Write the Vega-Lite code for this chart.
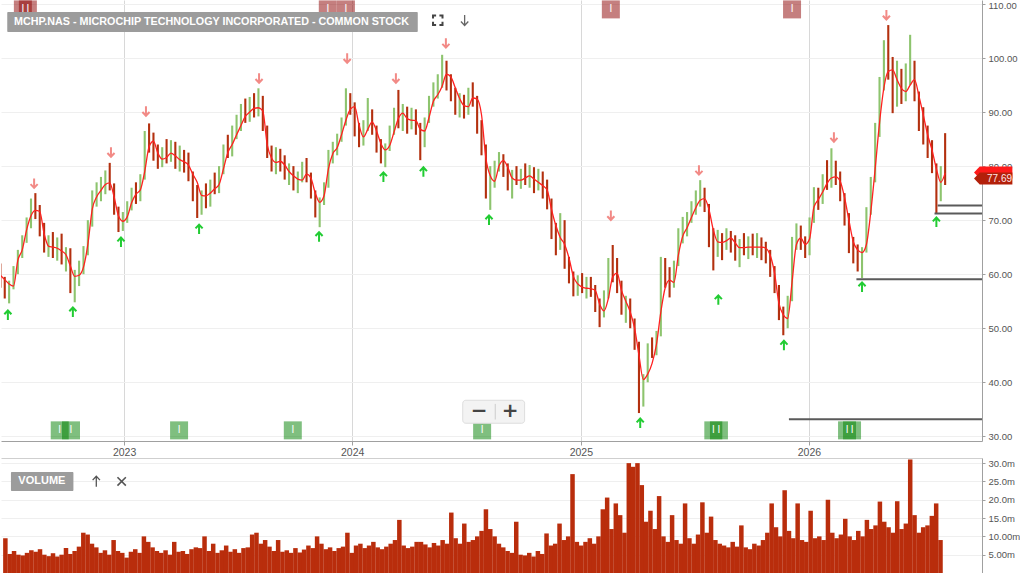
{
  "$schema": "https://vega.github.io/schema/vega-lite/v6.json",
  "padding": 0,
  "background": "white",
  "spacing": 17,
  "bounds": "flush",
  "config": {"view": {"stroke": null}, "font": "Liberation Sans", "axis": {"labelOverlap": false}},
  "datasets": {
    "px": [
      {"d":"2022-06-17","o":60.5,"h":62.0,"l":57.5,"c":58.2,"m":59.8,"v":9.5},
      {"d":"2022-06-24","o":58.2,"h":59.5,"l":55.5,"c":56.3,"m":59.0,"v":5.2},
      {"d":"2022-07-01","o":56.3,"h":58.8,"l":54.6,"c":58.0,"m":58.2,"v":6.0},
      {"d":"2022-07-08","o":58.0,"h":61.5,"l":57.2,"c":60.8,"m":57.8,"v":5.0},
      {"d":"2022-07-15","o":60.8,"h":64.5,"l":60.0,"c":63.9,"m":62.6,"v":4.8},
      {"d":"2022-07-22","o":63.9,"h":67.2,"l":63.0,"c":66.5,"m":64.5,"v":5.5},
      {"d":"2022-07-29","o":66.5,"h":70.5,"l":65.8,"c":69.8,"m":68.2,"v":6.2},
      {"d":"2022-08-05","o":69.8,"h":74.0,"l":68.5,"c":72.6,"m":70.8,"v":5.8},
      {"d":"2022-08-12","o":72.6,"h":75.0,"l":70.2,"c":71.0,"m":71.8,"v":6.5},
      {"d":"2022-08-19","o":71.0,"h":72.8,"l":67.0,"c":68.2,"m":71.6,"v":5.0},
      {"d":"2022-08-26","o":68.2,"h":69.5,"l":64.0,"c":65.0,"m":67.5,"v":4.6},
      {"d":"2022-09-02","o":65.0,"h":67.2,"l":63.2,"c":66.3,"m":65.2,"v":5.4},
      {"d":"2022-09-09","o":66.3,"h":67.8,"l":63.0,"c":64.0,"m":65.0,"v":4.5},
      {"d":"2022-09-16","o":64.0,"h":66.8,"l":62.5,"c":65.9,"m":64.8,"v":5.0},
      {"d":"2022-09-23","o":65.9,"h":67.5,"l":61.8,"c":62.5,"m":64.3,"v":6.8},
      {"d":"2022-09-30","o":62.5,"h":65.0,"l":60.5,"c":64.0,"m":63.6,"v":5.2},
      {"d":"2022-10-07","o":64.0,"h":64.8,"l":56.5,"c":58.0,"m":61.5,"v":6.0},
      {"d":"2022-10-14","o":58.0,"h":60.8,"l":54.8,"c":59.9,"m":59.6,"v":7.2},
      {"d":"2022-10-21","o":59.9,"h":62.5,"l":57.8,"c":61.5,"m":59.8,"v":11.0},
      {"d":"2022-10-28","o":61.5,"h":65.2,"l":60.0,"c":64.0,"m":61.3,"v":10.5},
      {"d":"2022-11-04","o":64.0,"h":70.0,"l":63.5,"c":69.2,"m":65.5,"v":8.0},
      {"d":"2022-11-11","o":69.2,"h":75.5,"l":68.8,"c":74.6,"m":72.0,"v":7.0},
      {"d":"2022-11-18","o":74.6,"h":77.0,"l":72.5,"c":75.5,"m":74.3,"v":5.5},
      {"d":"2022-11-25","o":75.5,"h":78.0,"l":73.5,"c":76.8,"m":75.5,"v":6.2},
      {"d":"2022-12-02","o":76.8,"h":79.2,"l":74.8,"c":77.5,"m":76.6,"v":5.0},
      {"d":"2022-12-09","o":77.5,"h":80.6,"l":75.5,"c":76.0,"m":76.9,"v":9.0},
      {"d":"2022-12-16","o":76.0,"h":76.8,"l":71.0,"c":72.0,"m":74.3,"v":6.0},
      {"d":"2022-12-23","o":72.0,"h":72.5,"l":67.8,"c":69.0,"m":70.8,"v":5.5},
      {"d":"2022-12-30","o":69.0,"h":71.5,"l":68.0,"c":70.9,"m":69.8,"v":4.2},
      {"d":"2023-01-06","o":70.9,"h":73.5,"l":69.5,"c":72.8,"m":70.6,"v":5.8},
      {"d":"2023-01-13","o":72.8,"h":76.0,"l":71.8,"c":75.2,"m":73.2,"v":6.5},
      {"d":"2023-01-20","o":75.2,"h":77.0,"l":73.0,"c":74.0,"m":74.8,"v":5.5},
      {"d":"2023-01-27","o":74.0,"h":78.5,"l":73.5,"c":78.0,"m":75.6,"v":10.0},
      {"d":"2023-02-03","o":78.0,"h":86.5,"l":77.5,"c":85.8,"m":79.0,"v":8.5},
      {"d":"2023-02-10","o":85.8,"h":87.9,"l":82.5,"c":84.0,"m":83.6,"v":7.0},
      {"d":"2023-02-17","o":84.0,"h":86.2,"l":81.0,"c":82.0,"m":84.6,"v":6.0},
      {"d":"2023-02-24","o":82.0,"h":84.0,"l":79.5,"c":80.5,"m":82.4,"v":5.5},
      {"d":"2023-03-03","o":80.5,"h":83.5,"l":79.8,"c":82.8,"m":81.3,"v":6.2},
      {"d":"2023-03-10","o":82.8,"h":85.0,"l":80.5,"c":81.5,"m":81.6,"v":5.0},
      {"d":"2023-03-17","o":81.5,"h":84.8,"l":80.8,"c":83.6,"m":82.4,"v":8.5},
      {"d":"2023-03-24","o":83.6,"h":84.5,"l":79.5,"c":80.2,"m":81.9,"v":5.8},
      {"d":"2023-03-31","o":80.2,"h":83.8,"l":79.0,"c":82.0,"m":81.2,"v":6.0},
      {"d":"2023-04-07","o":82.0,"h":83.0,"l":78.8,"c":79.5,"m":80.8,"v":5.2},
      {"d":"2023-04-14","o":79.5,"h":82.5,"l":77.2,"c":78.0,"m":80.2,"v":6.5},
      {"d":"2023-04-21","o":78.0,"h":79.0,"l":73.5,"c":74.5,"m":78.5,"v":7.0},
      {"d":"2023-04-28","o":74.5,"h":76.5,"l":70.4,"c":72.0,"m":77.0,"v":6.8},
      {"d":"2023-05-05","o":72.0,"h":75.5,"l":71.0,"c":74.8,"m":74.6,"v":10.0},
      {"d":"2023-05-12","o":74.8,"h":76.8,"l":72.2,"c":73.2,"m":74.5,"v":6.0},
      {"d":"2023-05-19","o":73.2,"h":77.5,"l":72.5,"c":76.8,"m":75.0,"v":8.0},
      {"d":"2023-05-26","o":76.8,"h":78.8,"l":74.8,"c":75.5,"m":75.8,"v":5.5},
      {"d":"2023-06-02","o":75.5,"h":80.0,"l":75.0,"c":79.4,"m":76.6,"v":6.2},
      {"d":"2023-06-09","o":79.4,"h":84.0,"l":78.5,"c":83.2,"m":79.5,"v":7.5},
      {"d":"2023-06-16","o":83.2,"h":85.8,"l":81.5,"c":82.5,"m":82.5,"v":5.8},
      {"d":"2023-06-23","o":82.5,"h":87.5,"l":81.8,"c":86.8,"m":84.0,"v":6.5},
      {"d":"2023-06-30","o":86.8,"h":89.5,"l":85.0,"c":88.2,"m":85.8,"v":5.5},
      {"d":"2023-07-07","o":88.2,"h":91.5,"l":86.5,"c":90.6,"m":87.5,"v":6.8},
      {"d":"2023-07-14","o":90.6,"h":92.5,"l":88.0,"c":89.5,"m":89.2,"v":7.0},
      {"d":"2023-07-21","o":89.5,"h":92.8,"l":88.2,"c":91.8,"m":90.0,"v":10.5},
      {"d":"2023-07-28","o":91.8,"h":93.5,"l":89.0,"c":90.0,"m":90.7,"v":11.0},
      {"d":"2023-08-04","o":90.0,"h":94.4,"l":89.2,"c":92.5,"m":90.8,"v":8.0},
      {"d":"2023-08-11","o":92.5,"h":93.0,"l":86.5,"c":87.0,"m":90.2,"v":9.0},
      {"d":"2023-08-18","o":87.0,"h":87.5,"l":81.5,"c":82.5,"m":84.0,"v":7.2},
      {"d":"2023-08-25","o":82.5,"h":83.8,"l":79.0,"c":80.0,"m":81.5,"v":6.0},
      {"d":"2023-09-01","o":80.0,"h":83.5,"l":78.5,"c":82.0,"m":80.7,"v":9.0},
      {"d":"2023-09-08","o":82.0,"h":83.2,"l":79.0,"c":80.5,"m":80.9,"v":5.8},
      {"d":"2023-09-15","o":80.5,"h":82.0,"l":77.5,"c":78.5,"m":80.2,"v":6.2},
      {"d":"2023-09-22","o":78.5,"h":80.5,"l":76.5,"c":79.2,"m":79.0,"v":5.5},
      {"d":"2023-09-29","o":79.2,"h":80.0,"l":75.5,"c":76.8,"m":78.2,"v":6.8},
      {"d":"2023-10-06","o":76.8,"h":79.0,"l":75.0,"c":78.2,"m":77.6,"v":5.6},
      {"d":"2023-10-13","o":78.2,"h":80.8,"l":77.0,"c":79.8,"m":77.4,"v":6.4},
      {"d":"2023-10-20","o":79.8,"h":81.5,"l":77.0,"c":78.0,"m":78.5,"v":7.5},
      {"d":"2023-10-27","o":78.0,"h":78.8,"l":74.0,"c":74.8,"m":77.8,"v":6.8},
      {"d":"2023-11-03","o":74.8,"h":75.5,"l":70.5,"c":71.5,"m":75.0,"v":10.0},
      {"d":"2023-11-10","o":71.5,"h":74.2,"l":68.7,"c":73.5,"m":73.3,"v":8.0},
      {"d":"2023-11-17","o":73.5,"h":77.0,"l":72.8,"c":76.5,"m":74.5,"v":6.5},
      {"d":"2023-11-24","o":76.5,"h":83.0,"l":76.0,"c":82.2,"m":79.5,"v":7.0},
      {"d":"2023-12-01","o":82.2,"h":84.5,"l":80.5,"c":83.8,"m":82.3,"v":6.0},
      {"d":"2023-12-08","o":83.8,"h":86.0,"l":82.0,"c":85.5,"m":83.4,"v":6.8},
      {"d":"2023-12-15","o":85.5,"h":89.0,"l":84.5,"c":88.2,"m":85.8,"v":7.2},
      {"d":"2023-12-22","o":88.2,"h":94.4,"l":87.5,"c":92.8,"m":88.5,"v":11.0},
      {"d":"2023-12-29","o":92.8,"h":93.5,"l":89.5,"c":91.0,"m":90.5,"v":5.5},
      {"d":"2024-01-05","o":91.0,"h":91.8,"l":85.5,"c":86.5,"m":91.0,"v":7.5},
      {"d":"2024-01-12","o":86.5,"h":88.0,"l":83.5,"c":84.8,"m":87.6,"v":8.0},
      {"d":"2024-01-19","o":84.8,"h":88.5,"l":83.8,"c":87.8,"m":85.4,"v":6.8},
      {"d":"2024-01-26","o":87.8,"h":92.6,"l":86.5,"c":89.0,"m":86.8,"v":7.5},
      {"d":"2024-02-02","o":89.0,"h":90.5,"l":85.8,"c":86.5,"m":88.2,"v":8.5},
      {"d":"2024-02-09","o":86.5,"h":87.5,"l":82.5,"c":83.2,"m":86.5,"v":7.0},
      {"d":"2024-02-16","o":83.2,"h":85.0,"l":80.5,"c":82.0,"m":84.2,"v":6.5},
      {"d":"2024-02-23","o":82.0,"h":84.2,"l":79.8,"c":83.5,"m":83.0,"v":7.2},
      {"d":"2024-03-01","o":83.5,"h":87.5,"l":82.8,"c":86.8,"m":83.8,"v":8.0},
      {"d":"2024-03-08","o":86.8,"h":90.8,"l":85.8,"c":90.0,"m":86.3,"v":9.0},
      {"d":"2024-03-15","o":90.0,"h":94.1,"l":87.0,"c":88.2,"m":88.8,"v":14.5},
      {"d":"2024-03-22","o":88.2,"h":91.5,"l":86.5,"c":90.2,"m":89.8,"v":7.5},
      {"d":"2024-03-29","o":90.2,"h":91.0,"l":86.0,"c":87.2,"m":88.8,"v":6.8},
      {"d":"2024-04-05","o":87.2,"h":90.8,"l":86.8,"c":89.5,"m":88.5,"v":7.2},
      {"d":"2024-04-12","o":89.5,"h":90.5,"l":85.8,"c":86.5,"m":88.4,"v":8.5},
      {"d":"2024-04-19","o":86.5,"h":88.0,"l":81.1,"c":84.0,"m":86.8,"v":8.5},
      {"d":"2024-04-26","o":84.0,"h":89.0,"l":83.5,"c":88.5,"m":86.5,"v":7.8},
      {"d":"2024-05-03","o":88.5,"h":93.0,"l":88.0,"c":92.2,"m":89.0,"v":7.0},
      {"d":"2024-05-10","o":92.2,"h":95.5,"l":91.0,"c":94.8,"m":92.0,"v":8.2},
      {"d":"2024-05-17","o":94.8,"h":97.0,"l":92.5,"c":95.5,"m":93.2,"v":7.5},
      {"d":"2024-05-24","o":95.5,"h":100.6,"l":94.5,"c":98.5,"m":94.8,"v":9.0},
      {"d":"2024-05-31","o":98.5,"h":99.5,"l":94.0,"c":95.0,"m":97.0,"v":8.0},
      {"d":"2024-06-07","o":95.0,"h":97.0,"l":92.0,"c":93.0,"m":96.5,"v":16.5},
      {"d":"2024-06-14","o":93.0,"h":94.5,"l":89.5,"c":90.5,"m":94.5,"v":9.5},
      {"d":"2024-06-21","o":90.5,"h":93.5,"l":89.0,"c":92.0,"m":92.5,"v":8.0},
      {"d":"2024-06-28","o":92.0,"h":93.2,"l":88.8,"c":90.2,"m":91.2,"v":13.5},
      {"d":"2024-07-05","o":90.2,"h":94.5,"l":89.5,"c":93.5,"m":91.0,"v":8.5},
      {"d":"2024-07-12","o":93.5,"h":95.5,"l":91.0,"c":92.0,"m":92.6,"v":9.0},
      {"d":"2024-07-19","o":92.0,"h":93.0,"l":86.0,"c":87.0,"m":92.4,"v":10.0},
      {"d":"2024-07-26","o":87.0,"h":88.5,"l":82.0,"c":83.0,"m":89.5,"v":11.5},
      {"d":"2024-08-02","o":83.0,"h":84.0,"l":74.0,"c":76.5,"m":81.5,"v":17.4},
      {"d":"2024-08-09","o":76.5,"h":80.0,"l":71.9,"c":78.8,"m":78.2,"v":12.0},
      {"d":"2024-08-16","o":78.8,"h":81.0,"l":76.0,"c":80.5,"m":77.2,"v":10.0},
      {"d":"2024-08-23","o":80.5,"h":82.6,"l":79.0,"c":81.5,"m":80.0,"v":8.0},
      {"d":"2024-08-30","o":81.5,"h":82.2,"l":78.0,"c":79.0,"m":81.0,"v":7.0},
      {"d":"2024-09-06","o":79.0,"h":80.5,"l":75.5,"c":76.5,"m":79.8,"v":6.0},
      {"d":"2024-09-13","o":76.5,"h":79.3,"l":74.0,"c":78.5,"m":77.8,"v":5.5},
      {"d":"2024-09-20","o":78.5,"h":80.0,"l":76.5,"c":77.0,"m":77.4,"v":14.0},
      {"d":"2024-09-27","o":77.0,"h":79.5,"l":75.8,"c":78.8,"m":77.4,"v":5.0},
      {"d":"2024-10-04","o":78.8,"h":80.5,"l":76.5,"c":77.5,"m":77.8,"v":4.8},
      {"d":"2024-10-11","o":77.5,"h":80.2,"l":76.0,"c":79.2,"m":78.2,"v":5.5},
      {"d":"2024-10-18","o":79.2,"h":79.8,"l":75.0,"c":76.0,"m":77.6,"v":4.5},
      {"d":"2024-10-25","o":76.0,"h":79.5,"l":75.5,"c":78.0,"m":77.0,"v":6.0},
      {"d":"2024-11-01","o":78.0,"h":79.0,"l":74.0,"c":75.0,"m":76.4,"v":5.2},
      {"d":"2024-11-08","o":75.0,"h":77.5,"l":72.0,"c":73.2,"m":75.6,"v":10.8},
      {"d":"2024-11-15","o":73.2,"h":74.0,"l":66.5,"c":67.5,"m":72.0,"v":7.5},
      {"d":"2024-11-22","o":67.5,"h":69.5,"l":63.5,"c":65.0,"m":69.0,"v":8.0},
      {"d":"2024-11-29","o":65.0,"h":71.3,"l":64.5,"c":69.5,"m":66.8,"v":13.5},
      {"d":"2024-12-06","o":69.5,"h":70.0,"l":61.0,"c":62.0,"m":65.5,"v":9.0},
      {"d":"2024-12-13","o":62.0,"h":63.2,"l":58.3,"c":59.5,"m":63.0,"v":10.0},
      {"d":"2024-12-20","o":59.5,"h":60.5,"l":55.9,"c":57.0,"m":59.6,"v":27.0},
      {"d":"2024-12-27","o":57.0,"h":59.8,"l":56.0,"c":58.5,"m":58.2,"v":8.5},
      {"d":"2025-01-03","o":58.5,"h":60.2,"l":56.5,"c":57.2,"m":57.6,"v":7.5},
      {"d":"2025-01-10","o":57.2,"h":59.5,"l":55.5,"c":58.8,"m":57.4,"v":8.5},
      {"d":"2025-01-17","o":58.8,"h":59.5,"l":55.8,"c":56.5,"m":57.3,"v":9.5},
      {"d":"2025-01-24","o":56.5,"h":58.0,"l":53.0,"c":54.2,"m":57.0,"v":8.0},
      {"d":"2025-01-31","o":54.2,"h":55.5,"l":50.2,"c":52.5,"m":54.5,"v":10.0},
      {"d":"2025-02-07","o":52.5,"h":57.0,"l":52.0,"c":56.2,"m":53.2,"v":17.4},
      {"d":"2025-02-14","o":56.2,"h":63.0,"l":55.5,"c":61.5,"m":55.5,"v":20.6},
      {"d":"2025-02-21","o":61.5,"h":65.4,"l":58.5,"c":59.5,"m":59.5,"v":12.0},
      {"d":"2025-02-28","o":59.5,"h":63.0,"l":56.5,"c":58.0,"m":60.2,"v":19.0},
      {"d":"2025-03-07","o":58.0,"h":58.8,"l":52.5,"c":53.5,"m":57.0,"v":15.8},
      {"d":"2025-03-14","o":53.5,"h":56.0,"l":51.0,"c":54.8,"m":55.0,"v":11.0},
      {"d":"2025-03-21","o":54.8,"h":55.5,"l":50.0,"c":51.0,"m":53.0,"v":30.0},
      {"d":"2025-03-28","o":51.0,"h":51.8,"l":46.0,"c":47.0,"m":50.0,"v":29.0},
      {"d":"2025-04-04","o":47.0,"h":47.5,"l":34.3,"c":38.0,"m":45.0,"v":30.0},
      {"d":"2025-04-11","o":38.0,"h":41.5,"l":35.5,"c":40.5,"m":40.5,"v":24.0},
      {"d":"2025-04-18","o":40.5,"h":47.2,"l":40.0,"c":46.0,"m":41.5,"v":14.0},
      {"d":"2025-04-25","o":46.0,"h":48.3,"l":44.5,"c":45.5,"m":43.5,"v":17.0},
      {"d":"2025-05-02","o":45.5,"h":49.5,"l":45.0,"c":48.8,"m":47.0,"v":12.0},
      {"d":"2025-05-09","o":48.8,"h":63.2,"l":48.5,"c":61.5,"m":53.0,"v":21.0},
      {"d":"2025-05-16","o":61.5,"h":63.0,"l":57.5,"c":59.0,"m":57.5,"v":10.0},
      {"d":"2025-05-23","o":59.0,"h":61.3,"l":55.7,"c":58.0,"m":58.9,"v":8.5},
      {"d":"2025-05-30","o":58.0,"h":62.5,"l":57.5,"c":62.0,"m":58.5,"v":15.8},
      {"d":"2025-06-06","o":62.0,"h":68.5,"l":61.5,"c":67.5,"m":63.5,"v":9.0},
      {"d":"2025-06-13","o":67.5,"h":70.6,"l":65.7,"c":68.5,"m":67.0,"v":8.0},
      {"d":"2025-06-20","o":68.5,"h":71.5,"l":67.0,"c":70.8,"m":68.6,"v":19.0},
      {"d":"2025-06-27","o":70.8,"h":73.5,"l":69.5,"c":72.5,"m":70.5,"v":9.5},
      {"d":"2025-07-04","o":72.5,"h":75.5,"l":71.0,"c":74.5,"m":72.3,"v":8.0},
      {"d":"2025-07-11","o":74.5,"h":77.4,"l":72.5,"c":75.0,"m":73.7,"v":10.5},
      {"d":"2025-07-18","o":75.0,"h":76.0,"l":71.5,"c":72.5,"m":74.0,"v":19.3},
      {"d":"2025-07-25","o":72.5,"h":73.0,"l":65.0,"c":66.0,"m":72.0,"v":11.0},
      {"d":"2025-08-01","o":66.0,"h":68.5,"l":60.7,"c":64.5,"m":68.2,"v":15.4},
      {"d":"2025-08-08","o":64.5,"h":68.2,"l":63.2,"c":67.0,"m":66.0,"v":9.0},
      {"d":"2025-08-15","o":67.0,"h":67.6,"l":62.6,"c":65.5,"m":65.9,"v":8.0},
      {"d":"2025-08-22","o":65.5,"h":68.5,"l":64.5,"c":67.5,"m":66.2,"v":7.5},
      {"d":"2025-08-29","o":67.5,"h":68.0,"l":64.0,"c":65.0,"m":66.7,"v":7.0},
      {"d":"2025-09-05","o":65.0,"h":67.2,"l":62.5,"c":63.8,"m":65.8,"v":8.5},
      {"d":"2025-09-12","o":63.8,"h":66.5,"l":61.3,"c":65.5,"m":64.9,"v":7.2},
      {"d":"2025-09-19","o":65.5,"h":67.6,"l":63.5,"c":64.5,"m":64.9,"v":13.0},
      {"d":"2025-09-26","o":64.5,"h":67.0,"l":62.8,"c":66.2,"m":65.0,"v":7.0},
      {"d":"2025-10-03","o":66.2,"h":67.5,"l":63.5,"c":64.8,"m":65.0,"v":6.5},
      {"d":"2025-10-10","o":64.8,"h":67.6,"l":63.0,"c":66.0,"m":65.0,"v":8.0},
      {"d":"2025-10-17","o":66.0,"h":66.8,"l":62.6,"c":64.5,"m":65.0,"v":7.5},
      {"d":"2025-10-24","o":64.5,"h":66.0,"l":62.0,"c":63.5,"m":64.8,"v":9.0},
      {"d":"2025-10-31","o":63.5,"h":64.5,"l":59.5,"c":60.5,"m":63.5,"v":11.0},
      {"d":"2025-11-07","o":60.5,"h":61.5,"l":56.5,"c":57.5,"m":60.2,"v":19.0},
      {"d":"2025-11-14","o":57.5,"h":58.0,"l":51.5,"c":52.5,"m":54.6,"v":12.5},
      {"d":"2025-11-21","o":52.5,"h":54.0,"l":48.7,"c":50.5,"m":52.5,"v":10.0},
      {"d":"2025-11-28","o":50.5,"h":56.0,"l":50.0,"c":55.5,"m":51.8,"v":22.6},
      {"d":"2025-12-05","o":55.5,"h":66.9,"l":55.0,"c":65.0,"m":58.5,"v":11.5},
      {"d":"2025-12-12","o":65.0,"h":69.4,"l":64.5,"c":67.5,"m":65.5,"v":9.5},
      {"d":"2025-12-19","o":67.5,"h":69.0,"l":64.5,"c":65.5,"m":66.7,"v":19.0},
      {"d":"2025-12-26","o":65.5,"h":67.0,"l":63.0,"c":64.0,"m":65.5,"v":9.0},
      {"d":"2026-01-02","o":64.0,"h":70.5,"l":63.5,"c":69.8,"m":66.5,"v":8.5},
      {"d":"2026-01-09","o":69.8,"h":76.1,"l":69.5,"c":74.5,"m":72.4,"v":17.0},
      {"d":"2026-01-16","o":74.5,"h":76.0,"l":71.9,"c":73.5,"m":73.8,"v":9.5},
      {"d":"2026-01-23","o":73.5,"h":78.5,"l":73.0,"c":77.5,"m":75.2,"v":10.0},
      {"d":"2026-01-30","o":77.5,"h":81.1,"l":75.6,"c":76.5,"m":76.8,"v":9.0},
      {"d":"2026-02-06","o":76.5,"h":83.3,"l":76.0,"c":79.5,"m":77.8,"v":20.0},
      {"d":"2026-02-13","o":79.5,"h":81.0,"l":76.5,"c":77.5,"m":78.0,"v":11.0},
      {"d":"2026-02-20","o":77.5,"h":79.0,"l":73.5,"c":74.5,"m":77.2,"v":9.5},
      {"d":"2026-02-27","o":74.5,"h":75.0,"l":69.0,"c":70.0,"m":74.2,"v":10.5},
      {"d":"2026-03-06","o":70.0,"h":71.3,"l":63.9,"c":65.0,"m":70.0,"v":14.8},
      {"d":"2026-03-13","o":65.0,"h":66.9,"l":62.0,"c":63.5,"m":66.0,"v":10.0},
      {"d":"2026-03-20","o":63.5,"h":65.5,"l":60.5,"c":62.0,"m":64.5,"v":9.0},
      {"d":"2026-03-27","o":62.0,"h":65.0,"l":59.3,"c":64.5,"m":64.0,"v":11.5},
      {"d":"2026-04-03","o":64.5,"h":72.4,"l":64.0,"c":71.5,"m":65.5,"v":10.0},
      {"d":"2026-04-10","o":71.5,"h":78.0,"l":71.0,"c":77.5,"m":71.5,"v":14.5},
      {"d":"2026-04-17","o":77.5,"h":88.0,"l":77.0,"c":87.0,"m":79.5,"v":12.0},
      {"d":"2026-04-24","o":87.0,"h":96.5,"l":85.4,"c":95.5,"m":88.0,"v":13.0},
      {"d":"2026-05-01","o":95.5,"h":103.3,"l":94.0,"c":101.0,"m":94.5,"v":19.5},
      {"d":"2026-05-08","o":101.0,"h":106.1,"l":96.0,"c":97.0,"m":97.5,"v":14.0},
      {"d":"2026-05-15","o":97.0,"h":100.2,"l":89.8,"c":93.0,"m":97.8,"v":12.5},
      {"d":"2026-05-22","o":93.0,"h":99.5,"l":91.0,"c":95.5,"m":96.0,"v":11.0},
      {"d":"2026-05-29","o":95.5,"h":98.0,"l":91.5,"c":93.0,"m":94.4,"v":19.6},
      {"d":"2026-06-05","o":93.0,"h":99.0,"l":92.0,"c":97.5,"m":93.8,"v":12.0},
      {"d":"2026-06-12","o":97.5,"h":104.3,"l":95.0,"c":98.0,"m":95.0,"v":13.5},
      {"d":"2026-06-19","o":98.0,"h":99.5,"l":92.0,"c":93.0,"m":96.0,"v":31.0},
      {"d":"2026-06-26","o":93.0,"h":93.8,"l":86.5,"c":88.0,"m":93.0,"v":15.8},
      {"d":"2026-07-03","o":88.0,"h":90.9,"l":84.0,"c":86.0,"m":89.5,"v":11.0},
      {"d":"2026-07-10","o":86.0,"h":87.5,"l":81.5,"c":82.5,"m":85.8,"v":12.5},
      {"d":"2026-07-17","o":82.5,"h":84.8,"l":78.7,"c":80.0,"m":83.0,"v":13.0},
      {"d":"2026-07-24","o":80.0,"h":80.5,"l":71.3,"c":74.0,"m":79.5,"v":15.6},
      {"d":"2026-07-31","o":74.0,"h":80.0,"l":73.5,"c":79.0,"m":77.0,"v":19.0},
      {"d":"2026-08-07","o":79.0,"h":86.1,"l":76.5,"c":77.69,"m":78.7,"v":9.0}
    ],
    "arrows": [
      {"d":"2022-08-10","p":76.85,"k":"dn"},
      {"d":"2022-12-11","p":82.6,"k":"dn"},
      {"d":"2023-02-05","p":90.2,"k":"dn"},
      {"d":"2023-08-05","p":96.3,"k":"dn"},
      {"d":"2023-12-24","p":100.0,"k":"dn"},
      {"d":"2024-03-11","p":96.3,"k":"dn"},
      {"d":"2024-05-30","p":102.8,"k":"dn"},
      {"d":"2025-02-18","p":70.9,"k":"dn"},
      {"d":"2025-07-09","p":79.3,"k":"dn"},
      {"d":"2026-02-10","p":85.4,"k":"dn"},
      {"d":"2026-05-05","p":108.0,"k":"dn"},
      {"d":"2022-06-29","p":52.4,"k":"up"},
      {"d":"2022-10-11","p":52.96,"k":"up"},
      {"d":"2022-12-27","p":65.9,"k":"up"},
      {"d":"2023-05-01","p":68.3,"k":"up"},
      {"d":"2023-11-09","p":66.9,"k":"up"},
      {"d":"2024-02-20","p":77.96,"k":"up"},
      {"d":"2024-04-24","p":78.9,"k":"up"},
      {"d":"2024-08-07","p":70.0,"k":"up"},
      {"d":"2025-04-06","p":32.4,"k":"up"},
      {"d":"2025-08-09","p":55.2,"k":"up"},
      {"d":"2025-11-22","p":46.8,"k":"up"},
      {"d":"2026-03-27","p":57.6,"k":"up"},
      {"d":"2026-07-24","p":69.6,"k":"up"}
    ],
    "topEvents": [
      {"d":"2022-07-23"},{"d":"2022-07-31"},{"d":"2023-11-23"},{"d":"2023-12-22"},{"d":"2025-02-18"},{"d":"2025-12-05"}
    ],
    "bottomEvents": [
      {"d":"2022-09-20"},{"d":"2022-10-08"},{"d":"2023-03-30"},{"d":"2023-09-28"},{"d":"2024-07-27"},{"d":"2025-08-01"},{"d":"2025-08-10"},{"d":"2026-03-03"},{"d":"2026-03-11"}
    ],
    "support": [
      {"d":"2025-11-30","p":33.15},
      {"d":"2026-03-18","p":59.07},
      {"d":"2026-07-21","p":71.24},
      {"d":"2026-07-26","p":72.72}
    ]
  },
  "vconcat": [
    {
      "width": 981,
      "height": 441,
      "layer": [
        {
          "data": {"name": "px"},
          "mark": {"type": "rule", "strokeWidth": 2.1, "clip": true},
          "encoding": {
            "x": {
              "field": "d", "type": "temporal",
              "scale": {"domain": [{"year": 2022, "month": 6, "date": 18}, {"year": 2026, "month": 10, "date": 5}]},
              "axis": {
                "orient": "bottom", "title": null, "format": "%Y",
                "values": [{"year": 2023, "month": 1, "date": 1}, {"year": 2024, "month": 1, "date": 1}, {"year": 2025, "month": 1, "date": 1}, {"year": 2026, "month": 1, "date": 1}],
                "grid": true, "gridColor": "#d8d8d8", "domainColor": "#a0a0a0", "tickColor": "#a0a0a0",
                "tickSize": 4, "labelColor": "#555555", "labelFontSize": 10.5, "labelPadding": 2
              }
            },
            "y": {
              "field": "l", "type": "quantitative",
              "scale": {"domain": [29.13, 110.74], "nice": false, "zero": false},
              "axis": {
                "orient": "right", "title": null, "format": ".2f",
                "values": [30, 40, 50, 60, 70, 80, 90, 100, 110], "tickCount": 20,
                "grid": true, "gridColor": "#efefef", "domainColor": "#a0a0a0", "tickColor": "#a0a0a0",
                "tickSize": 3, "labelColor": "#555555", "labelFontSize": 9.5, "labelPadding": 3,
                "labelBaseline": {"condition": {"test": "datum.value >= 110", "value": "top"}, "value": "middle"},
                "labelOffset": {"condition": {"test": "datum.value >= 110", "value": -3.5}, "value": 0}
              }
            },
            "y2": {"field": "h"},
            "color": {"condition": {"test": "datum.c >= datum.o", "value": "#8dc46e"}, "value": "#b3300f"}
          }
        },
        {
          "data": {"name": "px"},
          "mark": {"type": "line", "color": "#ff2020", "strokeWidth": 1.3, "interpolate": "monotone", "clip": true},
          "encoding": {
            "x": {"field": "d", "type": "temporal"},
            "y": {"field": "m", "type": "quantitative"}
          }
        },
        {
          "data": {"name": "support"},
          "mark": {"type": "rule", "color": "#5a5a5a", "strokeWidth": 2},
          "encoding": {
            "x": {"field": "d", "type": "temporal"},
            "x2": {"datum": {"year": 2026, "month": 10, "date": 5}},
            "y": {"field": "p", "type": "quantitative"}
          }
        },
        {
          "data": {"name": "arrows"},
          "transform": [{"filter": "datum.k === 'dn'"}],
          "mark": {"type": "point", "shape": "M0,-1L0,0.85M-0.75,0.2L0,1L0.75,0.2", "filled": false, "size": 90, "strokeWidth": 2, "color": "#f28a86", "opacity": 1},
          "encoding": {
            "x": {"field": "d", "type": "temporal"},
            "y": {"field": "p", "type": "quantitative"}
          }
        },
        {
          "data": {"name": "arrows"},
          "transform": [{"filter": "datum.k === 'up'"}],
          "mark": {"type": "point", "shape": "M0,1L0,-0.85M-0.75,-0.2L0,-1L0.75,-0.2", "filled": false, "size": 90, "strokeWidth": 2, "color": "#22cc33", "opacity": 1},
          "encoding": {
            "x": {"field": "d", "type": "temporal"},
            "y": {"field": "p", "type": "quantitative"}
          }
        },
        {
          "data": {"name": "topEvents"},
          "mark": {"type": "point", "shape": "square", "filled": true, "size": 324, "color": "#8b0000", "opacity": 0.5, "strokeWidth": 0},
          "encoding": {
            "x": {"field": "d", "type": "temporal"},
            "y": {"datum": 109.0}
          }
        },
        {
          "data": {"name": "topEvents"},
          "mark": {"type": "text", "text": "I", "color": "white", "fontSize": 10, "baseline": "middle"},
          "encoding": {
            "x": {"field": "d", "type": "temporal"},
            "y": {"datum": 109.0}
          }
        },
        {
          "data": {"name": "bottomEvents"},
          "mark": {"type": "point", "shape": "square", "filled": true, "size": 324, "color": "#008000", "opacity": 0.5, "strokeWidth": 0},
          "encoding": {
            "x": {"field": "d", "type": "temporal"},
            "y": {"datum": 31.1}
          }
        },
        {
          "data": {"name": "bottomEvents"},
          "mark": {"type": "text", "text": "I", "color": "white", "fontSize": 10, "baseline": "middle"},
          "encoding": {
            "x": {"field": "d", "type": "temporal"},
            "y": {"datum": 31.1}
          }
        },
        {
          "data": {"values": [{}]},
          "mark": {"type": "rect", "color": "#9c9c9c", "cornerRadius": 1},
          "encoding": {
            "x": {"datum": {"year": 2022, "month": 6, "date": 28}, "type": "temporal"},
            "x2": {"datum": {"year": 2024, "month": 4, "date": 15}},
            "y": {"datum": 108.52, "type": "quantitative"},
            "y2": {"datum": 104.81}
          }
        },
        {
          "data": {"values": [{}]},
          "mark": {"type": "text", "text": "MCHP.NAS - MICROCHIP TECHNOLOGY INCORPORATED - COMMON STOCK", "color": "white", "fontWeight": "bold", "fontSize": 10.75, "align": "center", "baseline": "middle"},
          "encoding": {
            "x": {"datum": {"year": 2023, "month": 5, "date": 21}, "type": "temporal"},
            "y": {"datum": 106.67, "type": "quantitative"}
          }
        },
        {
          "data": {"values": [{}]},
          "mark": {"type": "point", "shape": "M-1,-0.35L-1,-1L-0.35,-1M0.35,-1L1,-1L1,-0.35M1,0.35L1,1L0.35,1M-0.35,1L-1,1L-1,0.35", "filled": false, "size": 90, "color": "#444444", "strokeWidth": 2, "opacity": 1},
          "encoding": {
            "x": {"datum": {"year": 2024, "month": 5, "date": 17}, "type": "temporal"},
            "y": {"datum": 107.0, "type": "quantitative"}
          }
        },
        {
          "data": {"values": [{}]},
          "mark": {"type": "point", "shape": "M0,-1L0,0.9M-0.7,0.25L0,1L0.7,0.25", "filled": false, "size": 110, "color": "#666666", "strokeWidth": 1.3, "opacity": 1},
          "encoding": {
            "x": {"datum": {"year": 2024, "month": 6, "date": 29}, "type": "temporal"},
            "y": {"datum": 107.0, "type": "quantitative"}
          }
        },
        {
          "data": {"values": [{}]},
          "mark": {"type": "rect", "color": "#f3f3f3", "stroke": "#dddddd", "strokeWidth": 1, "cornerRadius": 3},
          "encoding": {
            "x": {"datum": {"year": 2024, "month": 6, "date": 26}, "type": "temporal"},
            "x2": {"datum": {"year": 2024, "month": 10, "date": 3}},
            "y": {"datum": 36.67, "type": "quantitative"},
            "y2": {"datum": 32.41}
          }
        },
        {
          "data": {"values": [{}]},
          "mark": {"type": "rule", "color": "#cccccc", "strokeWidth": 1},
          "encoding": {
            "x": {"datum": {"year": 2024, "month": 8, "date": 17}, "type": "temporal"},
            "y": {"datum": 36.0, "type": "quantitative"},
            "y2": {"datum": 33.1}
          }
        },
        {
          "data": {"values": [{}]},
          "mark": {"type": "text", "text": "−", "color": "#444444", "fontSize": 20, "fontWeight": "bold", "font": "DejaVu Sans", "baseline": "middle"},
          "encoding": {
            "x": {"datum": {"year": 2024, "month": 7, "date": 22}, "type": "temporal"},
            "y": {"datum": 34.6, "type": "quantitative"}
          }
        },
        {
          "data": {"values": [{}]},
          "mark": {"type": "text", "text": "+", "color": "#444444", "fontSize": 20, "fontWeight": "bold", "font": "DejaVu Sans", "baseline": "middle"},
          "encoding": {
            "x": {"datum": {"year": 2024, "month": 9, "date": 10}, "type": "temporal"},
            "y": {"datum": 34.6, "type": "quantitative"}
          }
        },
        {
          "data": {"values": [{}]},
          "mark": {"type": "point", "shape": "M-0.42,0L-0.12,-0.316L1.6,-0.316L1.6,0.316L-0.12,0.316Z", "filled": true, "size": 1444, "color": "#ff1a1a", "opacity": 1, "strokeWidth": 0},
          "encoding": {
            "x": {"datum": {"year": 2026, "month": 10, "date": 5}, "type": "temporal"},
            "y": {"datum": 78.8, "type": "quantitative"}
          }
        },
        {
          "data": {"values": [{}]},
          "mark": {"type": "point", "shape": "M-0.42,0L-0.12,-0.316L1.6,-0.316L1.6,0.316L-0.12,0.316Z", "filled": true, "size": 1444, "color": "#b3200a", "opacity": 1, "strokeWidth": 0},
          "encoding": {
            "x": {"datum": {"year": 2026, "month": 10, "date": 5}, "type": "temporal"},
            "y": {"datum": 77.69, "type": "quantitative"}
          }
        },
        {
          "data": {"values": [{}]},
          "mark": {"type": "text", "text": "77.69", "color": "#ffe6e6", "fontSize": 10, "align": "left", "baseline": "middle", "dx": 5},
          "encoding": {
            "x": {"datum": {"year": 2026, "month": 10, "date": 5}, "type": "temporal"},
            "y": {"datum": 77.69, "type": "quantitative"}
          }
        }
      ]
    },
    {
      "width": 981,
      "height": 115,
      "layer": [
        {
          "data": {"name": "px"},
          "mark": {"type": "bar", "width": 4.5, "color": "#b92d0c", "clip": true},
          "encoding": {
            "x": {
              "field": "d", "type": "temporal",
              "scale": {"domain": [{"year": 2022, "month": 6, "date": 18}, {"year": 2026, "month": 10, "date": 5}]},
              "axis": {"orient": "top", "title": null, "labels": false, "ticks": false, "grid": false, "domainColor": "#cfcfcf"}
            },
            "y": {
              "field": "v", "type": "quantitative",
              "scale": {"domain": [0, 31.4], "nice": false},
              "axis": {
                "orient": "right", "title": null,
                "values": [5, 10, 15, 20, 25, 30], "tickCount": 20, "labelOverlap": false,
                "labelExpr": "datum.value >= 15 ? format(datum.value, '.1f') + 'm' : format(datum.value, '.2f') + 'm'",
                "grid": true, "gridColor": "#efefef", "domainColor": "#a0a0a0", "tickColor": "#a0a0a0",
                "tickSize": 3, "labelColor": "#555555", "labelFontSize": 9.5, "labelPadding": 3
              }
            }
          }
        },
        {
          "data": {"values": [{}]},
          "mark": {"type": "rect", "color": "#9c9c9c", "cornerRadius": 1},
          "encoding": {
            "x": {"datum": {"year": 2022, "month": 6, "date": 26}, "type": "temporal"},
            "x2": {"datum": {"year": 2022, "month": 10, "date": 5}},
            "y": {"datum": 27.58, "type": "quantitative"},
            "y2": {"datum": 22.39}
          }
        },
        {
          "data": {"values": [{}]},
          "mark": {"type": "text", "text": "VOLUME", "color": "white", "fontWeight": "bold", "fontSize": 11, "align": "center", "baseline": "middle"},
          "encoding": {
            "x": {"datum": {"year": 2022, "month": 8, "date": 15}, "type": "temporal"},
            "y": {"datum": 24.99, "type": "quantitative"}
          }
        },
        {
          "data": {"values": [{}]},
          "mark": {"type": "point", "shape": "M0,1L0,-0.9M-0.7,-0.25L0,-1L0.7,-0.25", "filled": false, "size": 110, "color": "#555555", "strokeWidth": 1.3, "opacity": 1},
          "encoding": {
            "x": {"datum": {"year": 2022, "month": 11, "date": 11}, "type": "temporal"},
            "y": {"datum": 24.99, "type": "quantitative"}
          }
        },
        {
          "data": {"values": [{}]},
          "mark": {"type": "point", "shape": "M-1,-1L1,1M-1,1L1,-1", "filled": false, "size": 70, "color": "#555555", "strokeWidth": 1.6, "opacity": 1},
          "encoding": {
            "x": {"datum": {"year": 2022, "month": 12, "date": 22}, "type": "temporal"},
            "y": {"datum": 24.99, "type": "quantitative"}
          }
        }
      ]
    }
  ]
}
